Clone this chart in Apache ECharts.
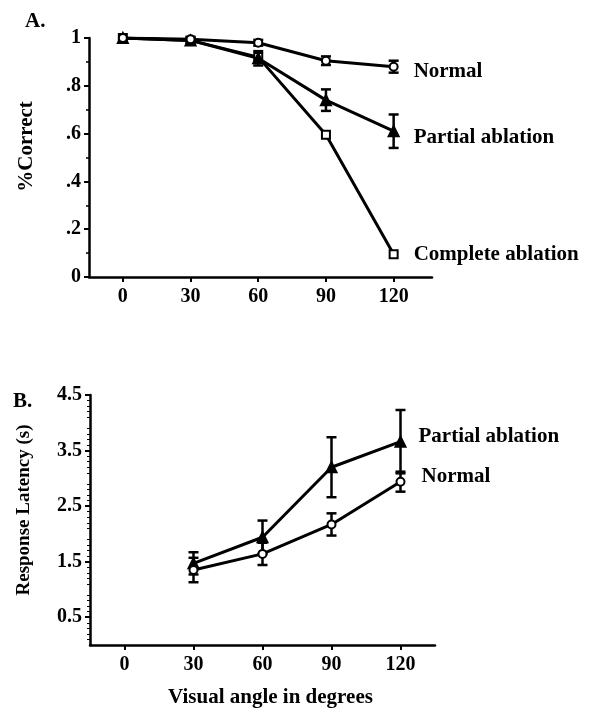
<!DOCTYPE html>
<html>
<head>
<meta charset="utf-8">
<script src="https://cdn.jsdelivr.net/npm/echarts@6/dist/echarts.min.js"></script>
<style>
  html, body { margin: 0; padding: 0; background: #fff; }
  #main { width: 596px; height: 711px; }
</style>
</head>
<body>
<div id="main"></div>
<script>
// 视角（度）
var anglesA = [0, 30, 60, 90, 120];
var anglesB = [30, 60, 90, 120];

// A. 正确率
var normalA = [1.0, 0.995, 0.98, 0.905, 0.88];
var normalAErr = [0, 0.008, 0.012, 0.018, 0.025];
var partialA = [1.0, 0.99, 0.915, 0.74, 0.61];
var partialAErr = [0, 0.008, 0.03, 0.045, 0.07];
var completeA = [1.0, 0.99, 0.92, 0.595, 0.095];

// B. 反应时（秒）
var partialB = [1.47, 1.94, 3.2, 3.66];
var partialBErr = [0.2, 0.3, 0.54, 0.57];
var normalB = [1.35, 1.64, 2.17, 2.94];
var normalBErr = [0.22, 0.2, 0.2, 0.18];

var xTicks = [0, 30, 60, 90, 120];
var yLabelsB = [0.5, 1.5, 2.5, 3.5, 4.5];

var font = '"Liberation Serif", "DejaVu Serif", serif';

function pairs(xs, ys) {
    return xs.map(function (x, i) { return [x, ys[i]]; });
}
function errData(xs, ys, es) {
    return xs.map(function (x, i) { return [x, ys[i] - es[i], ys[i] + es[i]]; })
        .filter(function (d) { return d[2] - d[1] > 0.001; });
}

function errorSeries(idx, data) {
    return {
        type: 'custom',
        xAxisIndex: idx,
        yAxisIndex: idx,
        z: 1,
        silent: true,
        data: data,
        renderItem: function (params, api) {
            var lo = api.coord([api.value(0), api.value(1)]);
            var hi = api.coord([api.value(0), api.value(2)]);
            var w = 5;
            var st = { stroke: '#000', lineWidth: 2.5 };
            return {
                type: 'group',
                children: [
                    { type: 'line', shape: { x1: lo[0], y1: lo[1], x2: hi[0], y2: hi[1] }, style: st },
                    { type: 'line', shape: { x1: lo[0] - w, y1: lo[1], x2: lo[0] + w, y2: lo[1] }, style: st },
                    { type: 'line', shape: { x1: hi[0] - w, y1: hi[1], x2: hi[0] + w, y2: hi[1] }, style: st }
                ]
            };
        }
    };
}

function lineSeries(idx, name, data, symbol, fill, offset) {
    return {
        name: name,
        type: 'line',
        xAxisIndex: idx,
        yAxisIndex: idx,
        data: data,
        z: 3,
        symbol: symbol,
        symbolSize: symbol === 'triangle' ? 10 : 8,
        showAllSymbol: true,
        lineStyle: { color: '#000', width: 3 },
        itemStyle: { color: fill, borderColor: '#000', borderWidth: 2 },
        endLabel: {
            show: true,
            formatter: name,
            offset: offset,
            color: '#000',
            fontFamily: font,
            fontWeight: 'bold',
            fontSize: 21
        }
    };
}

var labelStyle = { color: '#000', fontFamily: font, fontWeight: 'bold', fontSize: 20 };
var nameStyle = { color: '#000', fontFamily: font, fontWeight: 'bold', fontSize: 21 };
var axisLine = { show: true, onZero: false, lineStyle: { color: '#000', width: 2.5 } };

function xAxisDef(idx, max) {
    return {
        type: 'value',
        gridIndex: idx,
        min: -15,
        max: max,
        axisLine: axisLine,
        axisTick: { show: true, length: 5, lineStyle: { color: '#000', width: 2 }, customValues: xTicks },
        axisLabel: Object.assign({}, labelStyle, { customValues: xTicks, margin: 10 }),
        splitLine: { show: false },
        name: idx === 1 ? 'Visual angle in degrees' : '',
        nameLocation: 'middle',
        nameGap: 42,
        nameTextStyle: Object.assign({}, nameStyle, { padding: [0, 0, 0, 16] })
    };
}

var myChart = echarts.init(document.getElementById('main'));

var option = {
    backgroundColor: '#fff',
    animation: false,
    title: [
        { text: 'A.', left: 20, top: 6, textStyle: { fontFamily: font, fontWeight: 'bold', fontSize: 21, color: '#000' } },
        { text: 'B.', left: 8, top: 386, textStyle: { fontFamily: font, fontWeight: 'bold', fontSize: 21, color: '#000' } }
    ],
    grid: [
        { left: 89, top: 38, width: 343, height: 239 },
        { left: 90, top: 395, width: 345, height: 250 }
    ],
    xAxis: [xAxisDef(0, 137), xAxisDef(1, 135)],
    yAxis: [
        {
            type: 'value',
            gridIndex: 0,
            min: 0,
            max: 1,
            interval: 0.2,
            axisLine: axisLine,
            axisTick: { show: true, length: 5, lineStyle: { color: '#000', width: 2 } },
            minorTick: { show: true, splitNumber: 2, length: 3, lineStyle: { color: '#000', width: 1.5 } },
            axisLabel: Object.assign({}, labelStyle, {
                margin: 8,
                formatter: function (v) {
                    if (v === 0) return '0';
                    if (v === 1) return '1';
                    return String(Math.round(v * 10) / 10).replace('0.', '.');
                }
            }),
            splitLine: { show: false },
            name: '%Correct',
            nameLocation: 'middle',
            nameGap: 52,
            nameTextStyle: Object.assign({}, nameStyle, { padding: [0, 0, 0, 22] })
        },
        {
            type: 'value',
            gridIndex: 1,
            min: 0,
            max: 4.5,
            interval: 0.5,
            axisLine: axisLine,
            axisTick: { show: true, length: 5, lineStyle: { color: '#000', width: 2 }, customValues: yLabelsB },
            minorTick: { show: true, splitNumber: 5, length: 3, lineStyle: { color: '#000', width: 1 } },
            axisLabel: Object.assign({}, labelStyle, {
                margin: 8,
                customValues: yLabelsB,
                formatter: function (v) { return v.toFixed(1); }
            }),
            splitLine: { show: false },
            name: 'Response Latency (s)',
            nameLocation: 'middle',
            nameGap: 56,
            nameTextStyle: Object.assign({}, nameStyle, { fontSize: 19, padding: [0, 0, 0, 20] })
        }
    ],
    series: [
        errorSeries(0, errData(anglesA, normalA, normalAErr)),
        errorSeries(0, errData(anglesA, partialA, partialAErr)),
        lineSeries(0, 'Complete ablation', pairs(anglesA, completeA), 'rect', '#fff', [12, 0]),
        lineSeries(0, 'Partial ablation', pairs(anglesA, partialA), 'triangle', '#000', [12, 6]),
        lineSeries(0, 'Normal', pairs(anglesA, normalA), 'circle', '#fff', [12, 5]),
        errorSeries(1, errData(anglesB, partialB, partialBErr)),
        errorSeries(1, errData(anglesB, normalB, normalBErr)),
        lineSeries(1, 'Partial ablation', pairs(anglesB, partialB), 'triangle', '#000', [10, -5]),
        lineSeries(1, 'Normal', pairs(anglesB, normalB), 'circle', '#fff', [13, -5])
    ]
};

myChart.setOption(option);
</script>
</body>
</html>
